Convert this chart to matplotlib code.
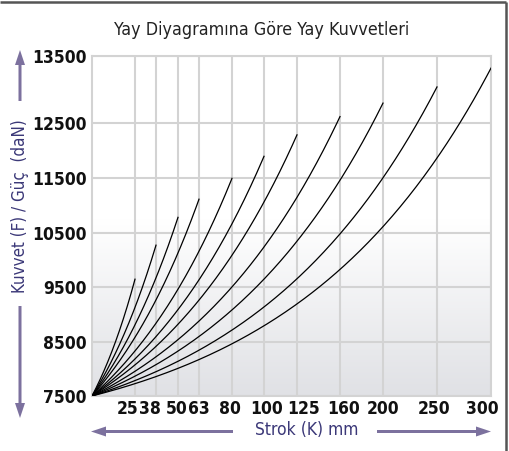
import numpy as np
import matplotlib
matplotlib.use("Agg")
import matplotlib.pyplot as plt
from matplotlib.patches import FancyArrow
from matplotlib.transforms import ScaledTranslation
from matplotlib import font_manager as fm

# veriler
strokes = [25, 38, 50, 63, 80, 100, 125, 160, 200, 250, 300]
end_force = [9650, 10280, 10790, 11120, 11500, 11900, 12290, 12600, 12800, 13040, 13320]
force_ticks = [7500, 8500, 9500, 10500, 11500, 12500, 13500]

title = "Yay Diyagramına Göre Yay Kuvvetleri"
xlabel = "Strok (K) mm"
ylabel = "Kuvvet (F) / Güç  (daN)"

# eksen aralıkları (grafikteki eşit olmayan ızgara)
x_vals = [0] + strokes
x_pos = [0, 43, 64, 86, 107, 140, 172, 205, 248, 291, 345, 399]
y_pos = [0, 54, 108.7, 162.7, 217.7, 272.7, 340]
# x etiketlerinin yatay kaymasi (piksel)
x_lab_shift = [-7, -6, -1, 0, -2, 3, 7, 4, 0, -3, -9]


def fx(s):
    return np.interp(s, x_vals, x_pos)


def fx_inv(p):
    return np.interp(p, x_pos, x_vals)


def fy(f):
    return np.interp(f, force_ticks, y_pos)


def fy_inv(p):
    return np.interp(p, y_pos, force_ticks)


# dar bir yazi tipi bul (yoksa Roboto)
def pick(bold):
    for fe in fm.fontManager.ttflist:
        narrow = ('Narrow' in fe.name or 'Condensed' in fe.name
                  or str(fe.stretch) in ('condensed', 'semi-condensed')
                  or 'Condensed' in fe.fname)
        is_bold = (fe.weight in ('bold', 700) or 'Bold' in fe.fname)
        if narrow and is_bold == bold and 'Oblique' not in fe.fname \
                and 'Italic' not in fe.fname:
            return fm.FontProperties(fname=fe.fname)
    return fm.FontProperties(family='Roboto', weight='bold' if bold else 'normal')


f_reg = pick(False)
f_bold = pick(True)

purple = '#3b3878'
arrow_col = '#7c719e'
grid_col = '#d3d3d3'

W, H = 509, 451
fig = plt.figure(figsize=(W / 100, H / 100), dpi=100)

ax = fig.add_axes([92 / W, (H - 396) / H, 399 / W, 340 / H])
ax.set_xscale('function', functions=(fx, fx_inv))
ax.set_yscale('function', functions=(fy, fy_inv))
ax.set_xlim(0, 300)
ax.set_ylim(7500, 13500)
ax.set_facecolor('white')

# arka plan degrade
grad = np.linspace(0, 1, 256).reshape(-1, 1)
cmap = matplotlib.colors.LinearSegmentedColormap.from_list('g', ['#e0e1e5', '#ffffff'])
ax.imshow(grad, extent=(0, 1, 0, 0.52), transform=ax.transAxes, cmap=cmap,
          aspect='auto', origin='lower', zorder=0)

ax.set_xticks(strokes)
ax.set_xticklabels([str(s) for s in strokes])
ax.set_yticks(force_ticks)
ax.set_yticklabels([str(f) for f in force_ticks])
ax.minorticks_off()
ax.tick_params(length=0, colors='#111111')
ax.tick_params(axis='x', pad=3)
ax.tick_params(axis='y', pad=4)
for lab in ax.get_xticklabels() + ax.get_yticklabels():
    lab.set_fontproperties(f_bold)
    lab.set_fontsize(12.5)
for lab, dx in zip(ax.get_xticklabels(), x_lab_shift):
    lab.set_transform(lab.get_transform() +
                      ScaledTranslation(dx / 100, 0, fig.dpi_scale_trans))

ax.grid(True, color=grid_col, lw=1.5, zorder=1)
for sp in ax.spines.values():
    sp.set_color(grid_col)
    sp.set_linewidth(1.5)

# yay egrileri
u = np.linspace(0, 1, 300)
for s, f in zip(strokes, end_force):
    c = 0.5 + 1.5 * fx(s) / x_pos[-1]
    px = u * fx(s)
    py = fy(f) * (np.exp(c * u) - 1) / (np.exp(c) - 1)
    ax.plot(fx_inv(px), fy_inv(py), color='black', lw=0.9, zorder=3)

# ust katman: baslik, etiketler, oklar, cerceve
ov = fig.add_axes([0, 0, 1, 1], facecolor='none')
ov.set_xlim(0, W)
ov.set_ylim(H, 0)
ov.axis('off')

ov.text(262, 30, title, ha='center', va='center', fontproperties=f_reg,
        fontsize=12.8, color='#222222')
ov.text(20, 206, ylabel, ha='center', va='center', rotation=90,
        fontproperties=f_reg, fontsize=12.2, color=purple)
ov.text(307, 430, xlabel, ha='center', va='center', fontproperties=f_reg,
        fontsize=12.5, color=purple)

aw = dict(width=3, head_width=10, head_length=15, length_includes_head=True,
          color=arrow_col, lw=0)
ov.add_patch(FancyArrow(20, 101, 0, -51, **aw))
ov.add_patch(FancyArrow(20, 306, 0, 112, **aw))
ov.add_patch(FancyArrow(233, 431.5, -142, 0, **aw))
ov.add_patch(FancyArrow(377, 431.5, 114, 0, **aw))

ov.plot([0, 506], [2, 2], color='#555555', lw=1.8, solid_capstyle='butt')
ov.plot([506, 506], [2, H], color='#555555', lw=1.8, solid_capstyle='butt')

fig.savefig('out.png', dpi=100)
